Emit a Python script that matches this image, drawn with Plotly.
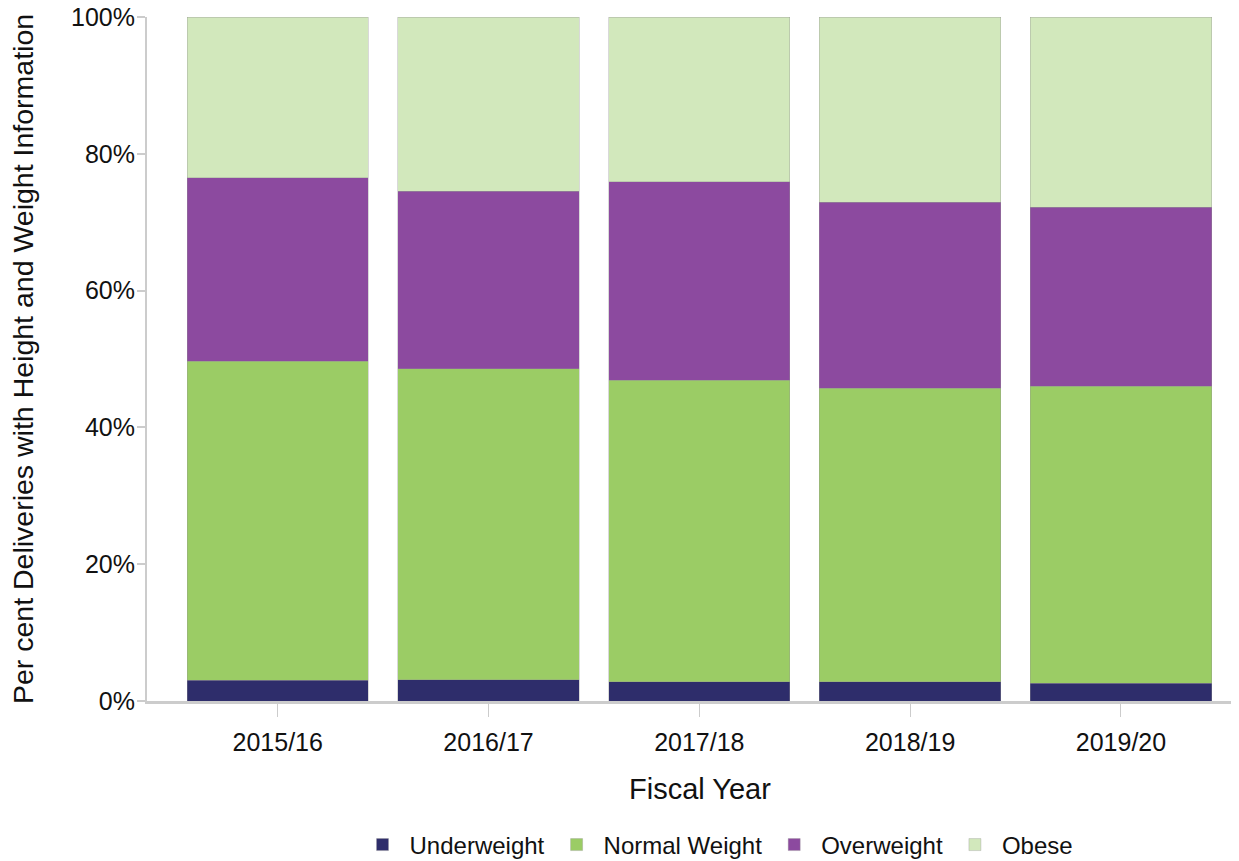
import plotly.graph_objects as go

years = ["2015/16", "2016/17", "2017/18", "2018/19", "2019/20"]
underweight = [3.0, 3.1, 2.8, 2.8, 2.6]
normal_weight = [46.7, 45.5, 44.1, 42.9, 43.4]
overweight = [26.8, 25.9, 29.0, 27.2, 26.2]
obese = [23.5, 25.5, 24.1, 27.1, 27.8]
y_ticks = [0, 20, 40, 60, 80, 100]
y_tick_labels = ["0%", "20%", "40%", "60%", "80%", "100%"]

series = [
    ("Underweight", underweight, "#2e2d6b"),
    ("Normal Weight", normal_weight, "#9bcc65"),
    ("Overweight", overweight, "#8c4a9f"),
    ("Obese", obese, "#d2e8bc"),
]

fig = go.Figure()
for name, vals, col in series:
    fig.add_trace(go.Bar(
        x=years, y=vals, name=name,
        marker=dict(color=col, line=dict(width=0.6, color="rgba(150,150,150,0.6)")),
    ))

font = "Liberation Sans, Arial, sans-serif"
fig.update_layout(
    barmode="stack",
    bargap=0.14,
    width=1231, height=853,
    margin=dict(l=139, r=0, t=9, b=160, autoexpand=False),
    plot_bgcolor="white", paper_bgcolor="white",
    font=dict(family=font, size=25, color="#111"),
    showlegend=True,
    legend=dict(orientation="h", x=0.522, xanchor="center", y=-0.2105, yanchor="middle",
                font=dict(size=24), traceorder="normal", itemwidth=44),
    xaxis=dict(
        range=[-0.62, 4.56],
        automargin=False,
        showline=True, linecolor="#cccccc", linewidth=3,
        ticks="outside", ticklen=13, tickcolor="#cccccc", tickwidth=1,
        ticklabelstandoff=4,
        tickfont=dict(size=25),
    ),
    yaxis=dict(
        range=[0, 100],
        automargin=False,
        tickvals=y_ticks, ticktext=y_tick_labels,
        ticklabeloverflow="allow",
        showline=True, linecolor="#cccccc", linewidth=2,
        ticks="outside", ticklen=8, tickcolor="#cccccc", tickwidth=2,
        ticklabelstandoff=-3,
        showgrid=False, zeroline=False,
        tickfont=dict(size=25),
    ),
    annotations=[
        dict(text="Fiscal Year", xref="paper", yref="paper", x=0.506, y=-0.128,
             xanchor="center", yanchor="middle", showarrow=False, font=dict(size=29)),
        dict(text="Per cent Deliveries with Height and Weight Information",
             xref="paper", yref="paper", x=-0.1135, y=0.5, textangle=-90,
             xanchor="center", yanchor="middle", showarrow=False, font=dict(size=28.5)),
    ],
)

fig.write_html("out.html")
